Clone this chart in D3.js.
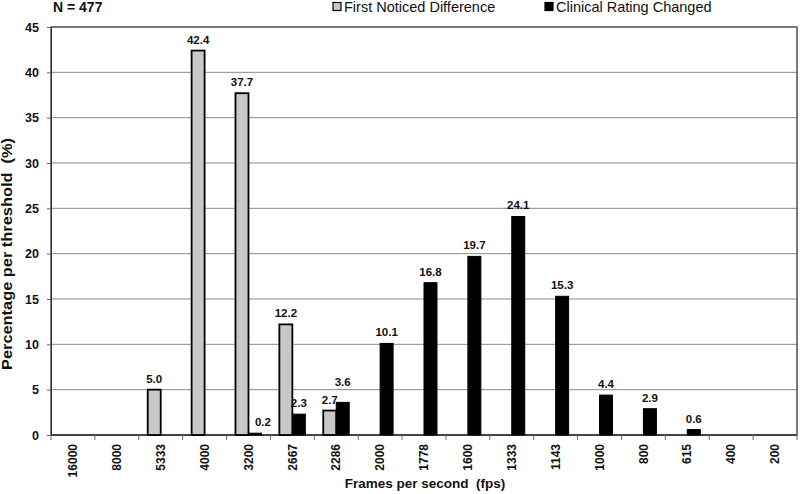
<!DOCTYPE html>
<html>
<head>
<meta charset="utf-8">
<script src="https://cdn.jsdelivr.net/npm/d3@7"></script>
<style>
  body { margin: 0; background: #fff; }
  svg { display: block; font-family: "Liberation Sans", Arial, sans-serif; }
  text { white-space: pre; }
</style>
</head>
<body>
<svg id="chart" width="800" height="494"></svg>
<script>
const categories = ["16000","8000","5333","4000","3200","2667","2286","2000","1778","1600","1333","1143","1000","800","615","400","200"];
const firstNoticed = [0, 0, 5.0, 42.4, 37.7, 12.2, 2.7, 0, 0, 0, 0, 0, 0, 0, 0, 0, 0];
const clinicalChanged = [0, 0, 0, 0, 0.2, 2.3, 3.6, 10.1, 16.8, 19.7, 24.1, 15.3, 4.4, 2.9, 0.6, 0, 0];
const seriesNames = ["First Noticed Difference", "Clinical Rating Changed"];
const yTicks = [0, 5, 10, 15, 20, 25, 30, 35, 40, 45];

const svg = d3.select("#chart");
const pL = 51, pR = 797, pT = 27, pB = 435;

const x = d3.scaleBand().domain(categories).range([pL, pR]).paddingInner(0).paddingOuter(0);
const xSub = d3.scaleBand().domain(["g", "b"]).range([0, x.bandwidth()]).paddingInner(0).paddingOuter(0.69);
const y = d3.scaleLinear().domain([0, 45]).range([pB, pT]);

// gridlines
svg.append("g").selectAll("line").data(yTicks.filter(t => t > 0 && t < 45)).join("line")
  .attr("x1", pL).attr("x2", pR)
  .attr("y1", d => y(d)).attr("y2", d => y(d))
  .attr("stroke", "#8a8a8a").attr("stroke-width", 1);

// plot border
svg.append("rect").attr("x", pL).attr("y", pT).attr("width", pR - pL).attr("height", pB - pT)
  .attr("fill", "none").attr("stroke", "#333").attr("stroke-width", 1.3);

// Y axis
const yAxis = d3.axisLeft(y).tickValues(yTicks).tickSize(4).tickPadding(8).tickFormat(d3.format("d"));
const gy = svg.append("g").attr("transform", `translate(${pL},0)`).call(yAxis);
gy.select(".domain").attr("stroke", "#333");
gy.selectAll(".tick line").attr("stroke", "#666");
gy.selectAll("text").attr("font-size", 12.5).attr("font-weight", "bold").attr("fill", "#111")
  .attr("font-family", "Liberation Sans, Arial, sans-serif");

// X axis: ticks at category boundaries
const gx = svg.append("g").attr("transform", `translate(0,${pB})`);
gx.append("line").attr("x1", pL).attr("x2", pR).attr("stroke", "#333").attr("stroke-width", 1.3);
const boundaries = categories.map(c => x(c)).concat([pR]);
gx.selectAll("line.tk").data(boundaries).join("line").attr("class", "tk")
  .attr("x1", d => d).attr("x2", d => d).attr("y1", 0).attr("y2", 5)
  .attr("stroke", "#666");
gx.selectAll("text").data(categories).join("text")
  .attr("transform", d => `translate(${x(d) + x.bandwidth() / 2},9) rotate(-90)`)
  .attr("text-anchor", "end").attr("dy", "0.35em")
  .attr("font-size", 12).attr("font-weight", "bold").attr("fill", "#111")
  .text(d => d);

// bars
const data = categories.map((c, i) => ({ c, g: firstNoticed[i], b: clinicalChanged[i] }));
const barG = svg.append("g");
barG.selectAll("rect.g").data(data.filter(d => d.g > 0)).join("rect").attr("class", "g")
  .attr("x", d => x(d.c) + xSub("g")).attr("width", xSub.bandwidth())
  .attr("y", d => y(d.g)).attr("height", d => y(0) - y(d.g))
  .attr("fill", "#c8c8c8").attr("stroke", "#000").attr("stroke-width", 1.8);
barG.selectAll("rect.b").data(data.filter(d => d.b > 0)).join("rect").attr("class", "b")
  .attr("x", d => x(d.c) + xSub("b")).attr("width", xSub.bandwidth())
  .attr("y", d => y(d.b)).attr("height", d => y(0) - y(d.b))
  .attr("fill", "#000").attr("stroke", "#000").attr("stroke-width", 1);

// value labels
const lab = svg.append("g").attr("font-size", 11.5).attr("font-weight", "bold").attr("fill", "#111").attr("text-anchor", "middle");
lab.selectAll("text.g").data(data.filter(d => d.g > 0)).join("text")
  .attr("x", d => x(d.c) + xSub("g") + xSub.bandwidth() / 2)
  .attr("y", d => y(d.g) - 7)
  .text(d => d.g.toFixed(1));
lab.selectAll("text.b").data(data.filter(d => d.b > 0)).join("text")
  .attr("x", d => x(d.c) + xSub("b") + xSub.bandwidth() / 2 + (d.c === "3200" ? 8 : 0))
  .attr("y", d => y(d.b) - (d.c === "2286" ? 16 : 7))
  .text(d => d.b.toFixed(1));

// top-left N
svg.append("text").attr("x", 53).attr("y", 12).attr("font-size", 14).attr("font-weight", "bold")
  .attr("fill", "#111").text("N = 477");

// legend
const legend = [{ name: seriesNames[0], fill: "#c8c8c8", x: 333 }, { name: seriesNames[1], fill: "#000", x: 545 }];
const lg = svg.append("g");
legend.forEach(l => {
  lg.append("rect").attr("x", l.x).attr("y", 2.5).attr("width", 8).attr("height", 8)
    .attr("fill", l.fill).attr("stroke", "#000").attr("stroke-width", 1.2);
  lg.append("text").attr("x", l.x + 11).attr("y", 12).attr("font-size", 14.5).attr("fill", "#111").text(l.name);
});

// axis titles
svg.append("text").attr("transform", `translate(12,254) rotate(-90)`)
  .attr("text-anchor", "middle").attr("font-size", 14).attr("font-weight", "bold").attr("fill", "#111")
  .attr("textLength", 232).attr("lengthAdjust", "spacingAndGlyphs")
  .text("Percentage per threshold  (%)");
svg.append("text").attr("x", 425).attr("y", 488).attr("text-anchor", "middle")
  .attr("font-size", 13.5).attr("font-weight", "bold").attr("fill", "#111")
  .text("Frames per second  (fps)");
</script>
</body>
</html>
